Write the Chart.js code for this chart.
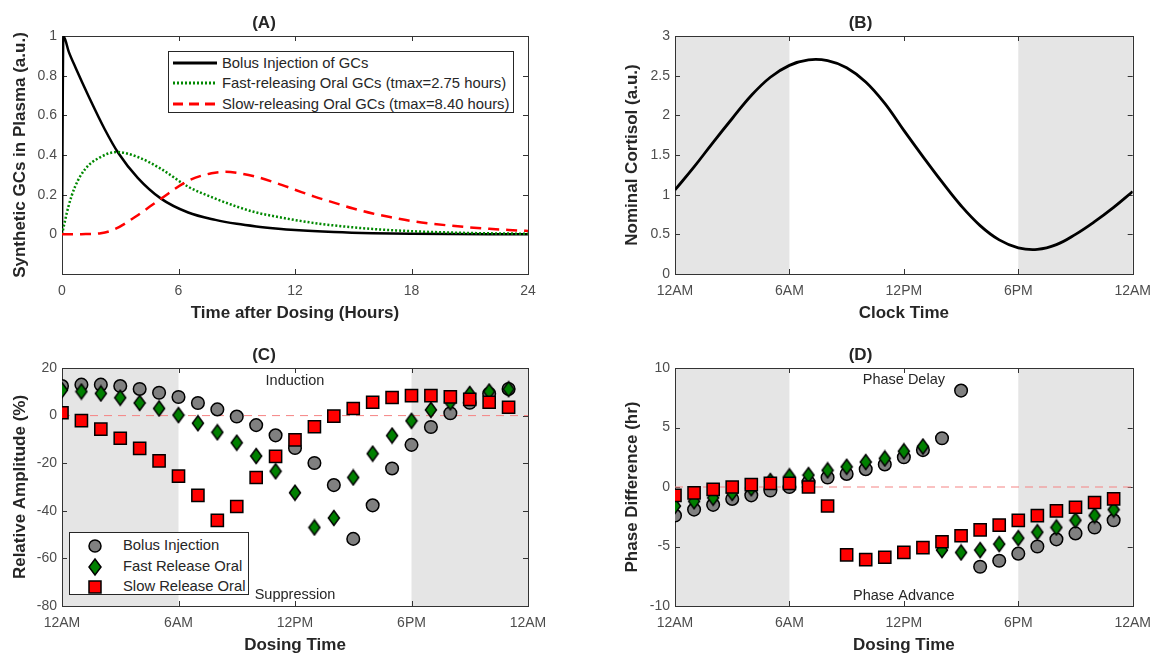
<!DOCTYPE html>
<html>
<head>
<meta charset="utf-8">
<script src="https://cdn.jsdelivr.net/npm/chart.js@4.4.1/dist/chart.umd.min.js"></script>
<style>
body { margin: 0; background: #fff; width: 1160px; height: 656px; position: relative; overflow: hidden; font-family: "Liberation Sans", Arial, sans-serif; }
canvas { position: absolute; }
.legend { position: absolute; background: #fff; border: 1px solid #262626; font-size: 14.8px; color: #262626; }
.legend svg { position: absolute; }
.legend span { position: absolute; white-space: nowrap; line-height: 18px; }
</style>
</head>
<body>
<canvas id="chartA" width="580" height="330" style="left:0;top:0"></canvas>
<canvas id="chartB" width="580" height="330" style="left:580px;top:0"></canvas>
<canvas id="chartC" width="580" height="324" style="left:0;top:332px"></canvas>
<canvas id="chartD" width="580" height="324" style="left:580px;top:332px"></canvas>

<div class="legend" style="left:168px;top:51px;width:344px;height:60px;">
  <svg style="left:0;top:2px" width="52" height="18"><line x1="4" y1="9" x2="48" y2="9" stroke="#000" stroke-width="3"/></svg>
  <span style="left:53px;top:2px">Bolus Injection of GCs</span>
  <svg style="left:0;top:22px" width="52" height="18"><line x1="4" y1="9" x2="48" y2="9" stroke="#008800" stroke-width="3" stroke-dasharray="2 2"/></svg>
  <span style="left:53px;top:22px">Fast-releasing Oral GCs (tmax=2.75 hours)</span>
  <svg style="left:0;top:43px" width="52" height="18"><line x1="4" y1="9" x2="48" y2="9" stroke="#ff0000" stroke-width="3" stroke-dasharray="10 6"/></svg>
  <span style="left:53px;top:43px">Slow-releasing Oral GCs (tmax=8.40 hours)</span>
</div>

<div class="legend" style="left:69px;top:532px;width:178px;height:61px;">
  <svg style="left:15px;top:3px" width="20" height="20"><circle cx="10" cy="10" r="6" fill="#808080" stroke="#000" stroke-width="1.5"/></svg>
  <span style="left:53px;top:3px">Bolus Injection</span>
  <svg style="left:15px;top:24px" width="20" height="20"><polygon points="10,2 16,10 10,18 4,10" fill="#008000" stroke="#000" stroke-width="1.5"/></svg>
  <span style="left:53px;top:24px">Fast Release Oral</span>
  <svg style="left:15px;top:44px" width="20" height="20"><rect x="4" y="4" width="12" height="12" fill="#ff0000" stroke="#000" stroke-width="1.5"/></svg>
  <span style="left:53px;top:44px">Slow Release Oral</span>
</div>

<script>
// (A) plasma profiles of synthetic GCs
var bolusTime = [0, 0.07, 0.35, 0.7, 1.4, 2.2, 2.9, 3.9, 5.1, 6.5, 7.9, 9, 10, 11, 12, 14, 16, 18, 20, 22, 24];
var bolusConc = [0, 1, 0.92, 0.84, 0.69, 0.53, 0.41, 0.285, 0.18, 0.11, 0.073, 0.053, 0.04, 0.03, 0.022, 0.012, 0.006, 0.003, 0.0015, 0.0008, 0.0004];
var fastTime = [0, 0.33, 0.67, 1.2, 1.9, 2.8, 3.9, 5.1, 6.5, 7.9, 9, 10, 11, 12, 13, 14, 16, 18, 20, 22, 24];
var fastConc = [0, 0.14, 0.24, 0.33, 0.385, 0.415, 0.39, 0.33, 0.24, 0.18, 0.14, 0.11, 0.09, 0.072, 0.057, 0.045, 0.027, 0.016, 0.009, 0.005, 0.003];
var slowTime = [0, 1, 2, 2.7, 3.8, 5.1, 6.5, 7.7, 8.4, 9, 10, 11, 12, 13, 14, 15, 16, 17, 18, 19, 20, 21, 22, 23, 24];
var slowConc = [0, 0.001, 0.006, 0.025, 0.09, 0.18, 0.27, 0.308, 0.315, 0.31, 0.29, 0.26, 0.225, 0.19, 0.16, 0.13, 0.105, 0.085, 0.067, 0.054, 0.044, 0.035, 0.028, 0.022, 0.017];

// (B) nominal cortisol rhythm
var clockTime = [0, 1, 2, 3, 4, 5, 6, 7, 8, 9, 10, 11, 12, 13, 14, 15, 16, 17, 18, 19, 20, 21, 22, 23, 24];
var cortisol = [1.06, 1.35, 1.66, 1.96, 2.25, 2.48, 2.63, 2.70, 2.69, 2.60, 2.42, 2.15, 1.81, 1.48, 1.16, 0.86, 0.61, 0.43, 0.33, 0.31, 0.37, 0.50, 0.66, 0.84, 1.04];

// (C) and (D) dosing time responses
var doseHours = [0, 1, 2, 3, 4, 5, 6, 7, 8, 9, 10, 11, 12, 13, 14, 15, 16, 17, 18, 19, 20, 21, 22, 23];
var ampBolus = [12.4, 13.0, 13.0, 12.4, 11.2, 9.6, 7.8, 5.3, 2.6, -0.4, -4.0, -8.3, -13.6, -19.9, -29.2, -51.8, -37.7, -22.2, -12.3, -4.8, 1.0, 5.4, 9.2, 11.2];
var ampFast = [10.7, 10.1, 9.3, 7.5, 5.3, 3.0, 0.2, -3.2, -7.0, -11.4, -17.0, -23.4, -32.4, -47.0, -43.0, -26.0, -16.0, -8.4, -2.2, 2.4, 5.6, 9.1, 10.1, 11.1];
var ampSlow = [1.2, -2.1, -5.7, -9.5, -13.8, -19.0, -25.4, -33.5, -44.0, -38.2, -26.0, -17.1, -10.2, -4.7, -0.2, 3.0, 5.6, 7.6, 8.4, 8.4, 7.9, 6.8, 5.6, 3.5];
var phaseBolus = [-2.4, -1.9, -1.5, -1.0, -0.7, -0.3, 0.0, 0.4, 0.8, 1.1, 1.5, 1.9, 2.5, 3.1, 4.1, 8.1, -6.7, -6.2, -5.6, -5.0, -4.4, -3.9, -3.4, -2.8];
var phaseFast = [-1.6, -1.2, -0.9, -0.5, -0.1, 0.5, 0.9, 1.0, 1.4, 1.7, 2.1, 2.4, 3.0, 3.4, -5.3, -5.5, -5.3, -4.8, -4.3, -3.8, -3.4, -2.8, -2.4, -1.9];
var phaseSlow = [-0.7, -0.5, -0.2, 0.0, 0.2, 0.3, 0.3, 0.0, -1.6, -5.7, -6.1, -5.9, -5.5, -5.1, -4.6, -4.1, -3.6, -3.2, -2.8, -2.4, -2.0, -1.7, -1.3, -1.0];

// ticks
var hourTicks = [0, 6, 12, 18, 24];
var hourLabels = ['0', '6', '12', '18', '24'];
var clockLabels = ['12AM', '6AM', '12PM', '6PM', '12AM'];
var yTicksA = [0, 0.2, 0.4, 0.6, 0.8, 1];
var yLabelsA = ['0', '0.2', '0.4', '0.6', '0.8', '1'];
var yTicksB = [0, 0.5, 1, 1.5, 2, 2.5, 3];
var yLabelsB = ['0', '0.5', '1', '1.5', '2', '2.5', '3'];
var yTicksC = [-80, -60, -40, -20, 0, 20];
var yLabelsC = ['-80', '-60', '-40', '-20', '0', '20'];
var yTicksD = [-10, -5, 0, 5, 10];
var yLabelsD = ['-10', '-5', '0', '5', '10'];
var nightHours = [[0, 6], [18, 24]];

var tickColor = '#4d4d4d';
var titleColor = '#262626';
var tickFont = { family: '"Liberation Sans", Arial, sans-serif', size: 14 };
var titleFont = { family: '"Liberation Sans", Arial, sans-serif', size: 17, weight: 'bold' };

function xy(xs, ys) {
    return xs.map(function (x, i) { return { x: x, y: ys[i] }; });
}

function diamondImage() {
    var c = document.createElement('canvas');
    c.width = 14;
    c.height = 18;
    var ctx = c.getContext('2d');
    ctx.beginPath();
    ctx.moveTo(7, 1.5);
    ctx.lineTo(12.5, 9);
    ctx.lineTo(7, 16.5);
    ctx.lineTo(1.5, 9);
    ctx.closePath();
    ctx.fillStyle = '#008000';
    ctx.fill();
    ctx.lineWidth = 1.5;
    ctx.strokeStyle = '#000';
    ctx.stroke();
    return c;
}
var diamond = diamondImage();

// grey night shading, axes box and inward ticks (matlab style)
function framePlugin(shade) {
    return {
        id: 'frame',
        beforeDatasetsDraw: function (chart) {
            var ctx = chart.ctx, a = chart.chartArea, xs = chart.scales.x, ys = chart.scales.y;
            ctx.save();
            if (shade) {
                ctx.fillStyle = '#e5e5e5';
                shade.forEach(function (r) {
                    var x0 = xs.getPixelForValue(r[0]), x1 = xs.getPixelForValue(r[1]);
                    ctx.fillRect(x0, a.top, x1 - x0, a.bottom - a.top);
                });
            }
            ctx.strokeStyle = '#333';
            ctx.lineWidth = 1;
            ctx.beginPath();
            xs.ticks.forEach(function (t) {
                var px = Math.round(xs.getPixelForValue(t.value)) + 0.5;
                ctx.moveTo(px, a.bottom); ctx.lineTo(px, a.bottom - 5);
                ctx.moveTo(px, a.top); ctx.lineTo(px, a.top + 5);
            });
            ys.ticks.forEach(function (t) {
                var py = Math.round(ys.getPixelForValue(t.value)) + 0.5;
                ctx.moveTo(a.left, py); ctx.lineTo(a.left + 5, py);
                ctx.moveTo(a.right, py); ctx.lineTo(a.right - 5, py);
            });
            ctx.stroke();
            ctx.strokeRect(Math.round(a.left) + 0.5, Math.round(a.top) + 0.5, Math.round(a.right - a.left), Math.round(a.bottom - a.top));
            ctx.restore();
        }
    };
}

function notePlugin(notes) {
    return {
        id: 'notes',
        afterDatasetsDraw: function (chart) {
            var ctx = chart.ctx;
            ctx.save();
            ctx.font = '14.5px "Liberation Sans", Arial, sans-serif';
            ctx.fillStyle = titleColor;
            ctx.textAlign = 'center';
            ctx.textBaseline = 'middle';
            notes.forEach(function (n) {
                ctx.fillText(n.text, chart.scales.x.getPixelForValue(n.x), chart.scales.y.getPixelForValue(n.y));
            });
            ctx.restore();
        }
    };
}

function axes(o) {
    return {
        x: {
            type: 'linear', min: 0, max: 24,
            afterBuildTicks: function (s) { s.ticks = hourTicks.map(function (v) { return { value: v }; }); },
            afterFit: function (s) { s.height = o.xHeight; },
            ticks: { callback: function (v, i) { return o.xLabels[i]; }, padding: 9, color: tickColor, font: tickFont, maxRotation: 0, autoSkip: false },
            grid: { display: false, drawTicks: false },
            border: { display: false },
            title: { display: true, text: o.xTitle, color: titleColor, font: titleFont, padding: { top: 0, bottom: o.xTitlePad } }
        },
        y: {
            type: 'linear', min: o.yMin, max: o.yMax,
            afterBuildTicks: function (s) { s.ticks = o.yTicks.map(function (v) { return { value: v }; }); },
            afterFit: function (s) { s.width = o.yWidth; },
            ticks: { callback: function (v, i) { return o.yLabels[i]; }, padding: 5, color: tickColor, font: tickFont, autoSkip: false },
            grid: { display: false, drawTicks: false },
            border: { display: false },
            title: { display: true, text: o.yTitle, color: titleColor, font: titleFont, padding: { top: o.yTitlePad, bottom: 0 } }
        }
    };
}

function baseOptions(title, rightPad, scales) {
    return {
        responsive: false,
        animation: false,
        events: [],
        layout: { padding: { left: 0, top: 0, right: rightPad, bottom: 0 } },
        plugins: {
            legend: { display: false },
            tooltip: { enabled: false },
            title: { display: true, text: title, color: titleColor, font: titleFont, padding: { top: 12.8, bottom: 2.8 } }
        },
        scales: scales
    };
}

function lineSet(xs, ys, color, dash, width) {
    return {
        data: xy(xs, ys), showLine: true, borderColor: color, borderWidth: width, borderDash: dash,
        pointRadius: 0, cubicInterpolationMode: 'monotone', fill: false
    };
}

function markerSets(bolus, fast, slow) {
    return [
        { data: [{ x: 0, y: 0 }, { x: 24, y: 0 }], showLine: true, borderColor: '#f58383', borderWidth: 1, borderDash: [8, 6], pointRadius: 0, order: 4 },
        { data: xy(doseHours, bolus), pointStyle: 'circle', pointRadius: 6.3, backgroundColor: '#808080', borderColor: '#000', borderWidth: 1.5, order: 3 },
        { data: xy(doseHours, fast), pointStyle: diamond, pointRadius: 7, backgroundColor: '#008000', borderColor: '#000', order: 2 },
        { data: xy(doseHours, slow), pointStyle: 'rect', pointRadius: 8.6, backgroundColor: '#ff0000', borderColor: '#000', borderWidth: 1.5, order: 1 }
    ];
}

new Chart(document.getElementById('chartA'), {
    type: 'scatter',
    data: {
        datasets: [
            lineSet(slowTime, slowConc, '#ff0000', [11, 7], 2.5),
            lineSet(fastTime, fastConc, '#008800', [2, 2], 2.5),
            lineSet(bolusTime, bolusConc, '#000000', [], 2.5)
        ]
    },
    options: baseOptions('(A)', 52, axes({
        xLabels: hourLabels, xTitle: 'Time after Dosing (Hours)', xHeight: 56, xTitlePad: 6.8,
        yMin: -0.2, yMax: 1, yTicks: yTicksA, yLabels: yLabelsA, yTitle: 'Synthetic GCs in Plasma (a.u.)', yWidth: 62, yTitlePad: 9.8
    })),
    plugins: [framePlugin(null)]
});

// the cortisol curve is smooth, a plain bezier looks closer than monotone here
var cortisolSet = lineSet(clockTime, cortisol, '#000000', [], 2.8);
cortisolSet.cubicInterpolationMode = 'default';
cortisolSet.tension = 0.4;

new Chart(document.getElementById('chartB'), {
    type: 'scatter',
    data: { datasets: [cortisolSet] },
    options: baseOptions('(B)', 19, axes({
        xLabels: clockLabels, xTitle: 'Clock Time', xHeight: 56, xTitlePad: 6.8,
        yMin: 0, yMax: 3, yTicks: yTicksB, yLabels: yLabelsB, yTitle: 'Nominal Cortisol (a.u.)', yWidth: 95, yTitlePad: 41.8
    })),
    plugins: [framePlugin(nightHours)]
});

new Chart(document.getElementById('chartC'), {
    type: 'scatter',
    data: { datasets: markerSets(ampBolus, ampFast, ampSlow) },
    options: baseOptions('(C)', 52, axes({
        xLabels: clockLabels, xTitle: 'Dosing Time', xHeight: 50, xTitlePad: 0.8,
        yMin: -80, yMax: 20, yTicks: yTicksC, yLabels: yLabelsC, yTitle: 'Relative Amplitude (%)', yWidth: 62, yTitlePad: 9.8
    })),
    plugins: [framePlugin(nightHours), notePlugin([{ text: 'Induction', x: 12, y: 14.6 }, { text: 'Suppression', x: 12, y: -75.2 }])]
});

new Chart(document.getElementById('chartD'), {
    type: 'scatter',
    data: { datasets: markerSets(phaseBolus, phaseFast, phaseSlow) },
    options: baseOptions('(D)', 19, axes({
        xLabels: clockLabels, xTitle: 'Dosing Time', xHeight: 50, xTitlePad: 0.8,
        yMin: -10, yMax: 10, yTicks: yTicksD, yLabels: yLabelsD, yTitle: 'Phase Difference (hr)', yWidth: 95, yTitlePad: 41.8
    })),
    plugins: [framePlugin(nightHours), notePlugin([{ text: 'Phase Delay', x: 12, y: 8.95 }, { text: 'Phase Advance', x: 12, y: -9.2 }])]
});
</script>
</body>
</html>
